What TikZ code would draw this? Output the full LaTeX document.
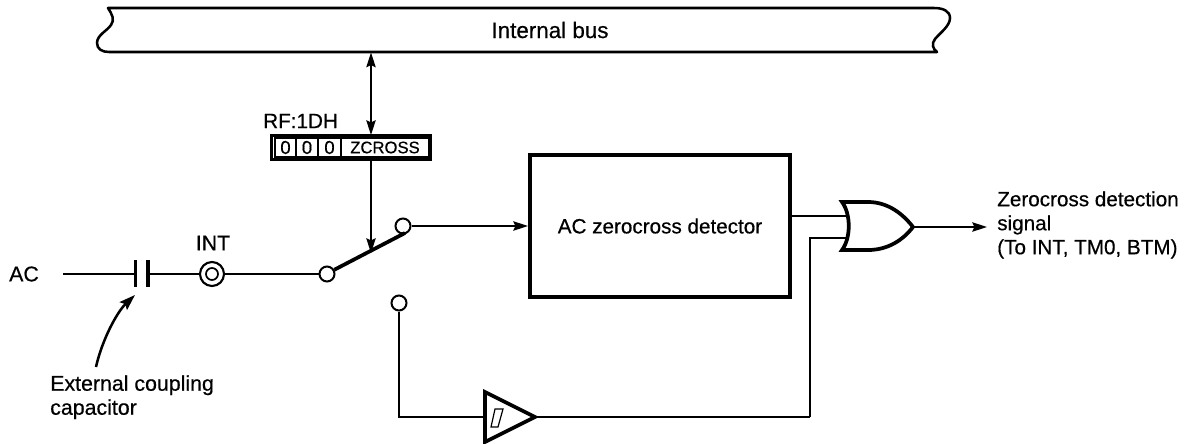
\documentclass[tikz,border=0pt]{standalone}
\usepackage{fontspec}
\setmainfont[RawFeature={embolden=0.5}]{Liberation Sans}
\usetikzlibrary{arrows.meta}
\def\px{0.75pt}
\tikzset{
  wire/.style={line width=1.35pt,line join=miter},
  heavy/.style={line width=2.8pt,line join=miter},
  arrowwire/.style={wire,-{Stealth[length=11pt,width=7pt,inset=1.5pt]}},
  dblwire/.style={wire,{Stealth[length=11pt,width=7pt,inset=1.5pt]}-{Stealth[length=11pt,width=7pt,inset=1.5pt]}},
  label/.style={inner sep=0pt,font=\fontsize{16}{18}\selectfont},
  tighter/.style={inner sep=0pt,font=\fontsize{15.5}{18}\selectfont},
  small/.style={inner sep=0pt,font=\fontsize{12.5}{14}\selectfont},
  terminal/.style={circle,draw,fill=white,line width=1.5pt,minimum size=15*\px,inner sep=0pt},
  cell/.style={rectangle,draw,line width=0.9pt,inner sep=0pt,minimum height=19*\px,small},
}
\begin{document}
\begin{tikzpicture}[x=\px,y=-\px]
\useasboundingbox (0,0) rectangle (1186,443);
% internal bus
\draw[line width=1.9pt,line join=round] (108,8) .. controls (112,14) and (115,20) .. (111,25)
  .. controls (107,31) and (97,35) .. (97,43) .. controls (97,49) and (102,52) .. (109,52)
  -- (937,52) .. controls (933,49) and (931,44) .. (935,39)
  .. controls (940,33) and (950,26) .. (950,18) .. controls (950,11) and (943,8) .. (934,8) -- cycle;
\node[inner sep=0pt,font=\fontsize{16.8}{18}\selectfont] (bus) at (550,30) {Internal bus};
% register
\node[tighter,anchor=west] (rf) at (263,121) {RF:1DH};
\node[rectangle,draw,line width=2.2pt,minimum width=159*\px,minimum height=24*\px,inner sep=0pt] (reg) at (351,147.5) {};
\node[cell,minimum width=21*\px,font=\fontsize{14}{14}\selectfont] (b2) at (285.5,147.5) {0};
\node[cell,minimum width=22*\px,font=\fontsize{14}{14}\selectfont] (b1) at (307,147.5) {0};
\node[cell,minimum width=23*\px,font=\fontsize{14}{14}\selectfont] (b0) at (329.5,147.5) {0};
\node[cell,minimum width=87*\px] (zc) at (385,147.5) {ZCROSS};
\coordinate (busport) at (371,52.5);
\coordinate (regtop) at (371,135);
\coordinate (regbot) at (371,160);
\coordinate (armhit) at (371,253);
\draw[dblwire] (busport) -- (regtop);
\draw[arrowwire] (regbot) -- (armhit);
% input
\node[label] (ac) at (24,274) {AC};
\coordinate (acstart) at (63,274);
\coordinate (capA) at (135.5,274);
\coordinate (capB) at (148,274);
\draw[heavy,line width=2.4pt] (135.5,260) -- (135.5,287);
\draw[heavy,line width=2.4pt] (148,260) -- (148,287);
\draw[wire] (acstart) -- (capA);
\node[circle,draw,fill=white,line width=1.6pt,minimum size=24*\px,inner sep=0pt] (int) at (212,274) {};
\node[circle,draw,line width=1.3pt,minimum size=12*\px,inner sep=0pt] (intin) at (212,274) {};
\node[label] (intl) at (213,243) {INT};
\node[terminal] (sw) at (327,274) {};
\node[terminal] (swa) at (403,226) {};
\node[terminal] (swb) at (399,303) {};
\draw[wire] (capB) -- (int);
\draw[wire] (int) -- (sw);
\draw[heavy] (sw.30) -- (405,233);
% capacitor note
\node[label,anchor=north west,align=left] (cap) at (50,375) {External coupling\\capacitor};
\coordinate (capnote) at (96,367);
\coordinate (captip) at (135,295);
\draw[line width=1.9pt,-{Stealth[length=12pt,width=8pt,inset=2pt]}] (capnote) .. controls (102,340) and (117,312) .. (captip);
% detector
\node[rectangle,draw,line width=3pt,minimum width=260*\px,minimum height=142*\px,inner sep=0pt,font=\fontsize{15.5}{18}\selectfont] (det) at (660,226) {AC zerocross detector};
\draw[arrowwire] (swa) -- (det.west);
% OR gate
\draw[heavy,fill=white] (842,202) .. controls (851,214) and (851,238) .. (842,250)
  -- (868,250) .. controls (888,250) and (903,240) .. (913,227)
  .. controls (903,214) and (888,202) .. (868,202) -- cycle;
\coordinate (orA) at (849,216);
\coordinate (orB) at (849,238);
\coordinate (orOut) at (913,227);
\coordinate (detOut) at (790,216);
\coordinate (sigEnd) at (987,227);
\coordinate (corner) at (810,417);
\coordinate (corner2) at (810,238);
\draw[wire,line width=1.6pt] (detOut) -- (orA);
\draw[wire,line width=1.6pt] (corner) -- (corner2) -- (orB);
\draw[arrowwire] (orOut) -- (sigEnd);
\node[tighter,anchor=north west,align=left] (out) at (997,191) {Zerocross detection\\signal\\(To INT, TM0, BTM)};
% Schmitt buffer
\coordinate (bufIn) at (485,417);
\coordinate (bufOut) at (535,417);
\coordinate (bufCorner) at (399,417);
\draw[heavy] (485,392) -- (535,417) -- (485,442) -- cycle;
\draw[line width=0.9pt] (495,409) -- (503,409) -- (498,427) -- (491,427) -- cycle;
\draw[wire] (swb) -- (bufCorner) -- (bufIn);
\draw[wire] (bufOut) -- (corner);
\end{tikzpicture}
\end{document}
